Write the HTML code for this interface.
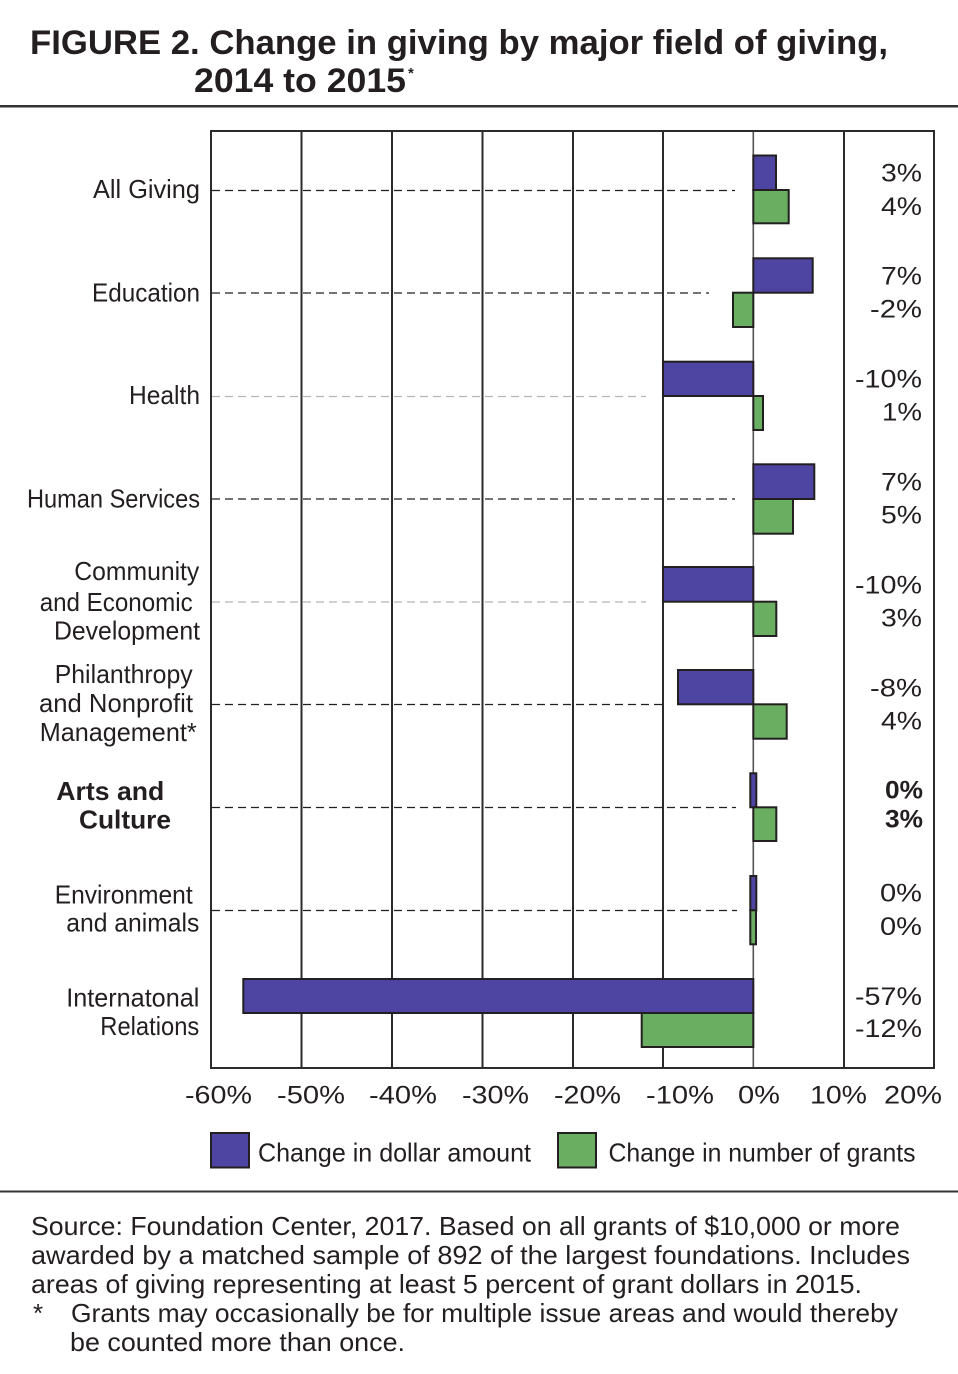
<!DOCTYPE html>
<html><head><meta charset="utf-8"><style>
html,body{margin:0;padding:0;background:#fff;}
svg{display:block;}
text{font-family:"Liberation Sans",sans-serif;fill:#231f20;}
</style></head><body>
<svg width="958" height="1374" viewBox="0 0 958 1374" xmlns="http://www.w3.org/2000/svg">
<rect width="958" height="1374" fill="#fff"/>
<!-- Title -->
<text x="30" y="54" font-size="34" font-weight="bold" textLength="858" lengthAdjust="spacingAndGlyphs">FIGURE 2. Change in giving by major field of giving,</text>
<text x="194" y="92" font-size="34" font-weight="bold" textLength="212" lengthAdjust="spacingAndGlyphs">2014 to 2015</text>
<text x="408" y="78" font-size="15" font-weight="bold">*</text>
<rect x="0" y="105" width="958" height="2.5" fill="#333"/>

<!-- Dashed leader lines -->
<g stroke-width="1.3" stroke-dasharray="8 5" fill="none">
<line x1="212" y1="190.5" x2="735" y2="190.5" stroke="#231f20"/>
<line x1="212" y1="293" x2="709" y2="293" stroke="#231f20"/>
<line x1="212" y1="396.5" x2="646" y2="396.5" stroke="#b5b5b5"/>
<line x1="212" y1="499" x2="735" y2="499" stroke="#231f20"/>
<line x1="212" y1="602" x2="646" y2="602" stroke="#b5b5b5"/>
<line x1="212" y1="704.5" x2="663" y2="704.5" stroke="#231f20"/>
<line x1="212" y1="807.5" x2="736" y2="807.5" stroke="#231f20"/>
<line x1="212" y1="910.5" x2="737" y2="910.5" stroke="#231f20"/>
</g>

<!-- Gridlines -->
<g stroke="#2b2b2b" stroke-width="2">
<line x1="301.5" y1="131" x2="301.5" y2="1068"/>
<line x1="392" y1="131" x2="392" y2="1068"/>
<line x1="482.5" y1="131" x2="482.5" y2="1068"/>
<line x1="573" y1="131" x2="573" y2="1068"/>
<line x1="663" y1="131" x2="663" y2="1068"/>
<line x1="844" y1="131" x2="844" y2="1068"/>
</g>
<line x1="753.3" y1="131" x2="753.3" y2="1068" stroke="#555" stroke-width="1.6"/>
<rect x="211" y="131" width="723" height="937" fill="none" stroke="#2b2b2b" stroke-width="2"/>

<!-- Bars -->
<g stroke="#231f20" stroke-width="2">
<rect x="753.3" y="155.5" width="22.7" height="34.5" fill="#4e45a2"/>
<rect x="753.3" y="190" width="35.4" height="33.3" fill="#6aae61"/>

<rect x="753.3" y="258.3" width="59.4" height="34.4" fill="#4e45a2"/>
<rect x="733" y="292.7" width="20.3" height="34.3" fill="#6aae61"/>

<rect x="663" y="361.7" width="90.3" height="34.3" fill="#4e45a2"/>
<rect x="753.3" y="396" width="9.7" height="34" fill="#6aae61"/>

<rect x="753.3" y="464.3" width="61" height="34.7" fill="#4e45a2"/>
<rect x="753.3" y="499" width="39.7" height="34.7" fill="#6aae61"/>

<rect x="663" y="567" width="90.3" height="34.7" fill="#4e45a2"/>
<rect x="753.3" y="601.7" width="23" height="34.3" fill="#6aae61"/>

<rect x="678" y="670" width="75.3" height="34.3" fill="#4e45a2"/>
<rect x="753.3" y="704.3" width="33.4" height="34.4" fill="#6aae61"/>

<rect x="750.3" y="773.3" width="6" height="34" fill="#4e45a2"/>
<rect x="753.3" y="807.3" width="23" height="33.7" fill="#6aae61"/>

<rect x="750.3" y="876" width="6" height="34.3" fill="#4e45a2"/>
<rect x="750.3" y="910.3" width="5.7" height="34" fill="#6aae61"/>

<rect x="243.3" y="979" width="510" height="34" fill="#4e45a2"/>
<rect x="641.7" y="1013" width="111.6" height="34" fill="#6aae61"/>
</g>

<!-- Category labels -->
<g font-size="26" text-anchor="end">
<text x="200" y="198" textLength="107" lengthAdjust="spacingAndGlyphs">All Giving</text>
<text x="200" y="301.7" textLength="108" lengthAdjust="spacingAndGlyphs">Education</text>
<text x="200" y="404" textLength="71" lengthAdjust="spacingAndGlyphs">Health</text>
<text x="200" y="507.7" textLength="173" lengthAdjust="spacingAndGlyphs">Human Services</text>
<text x="199.3" y="580" textLength="125" lengthAdjust="spacingAndGlyphs">Community</text>
<text x="192.7" y="611" textLength="153" lengthAdjust="spacingAndGlyphs">and Economic</text>
<text x="200" y="639.5" textLength="146" lengthAdjust="spacingAndGlyphs">Development</text>
<text x="192.7" y="683" textLength="138" lengthAdjust="spacingAndGlyphs">Philanthropy</text>
<text x="193" y="712" textLength="154" lengthAdjust="spacingAndGlyphs">and Nonprofit</text>
<text x="196.7" y="741" textLength="157" lengthAdjust="spacingAndGlyphs">Management*</text>
<text x="164.3" y="800" font-weight="bold" textLength="108" lengthAdjust="spacingAndGlyphs">Arts and</text>
<text x="171" y="828.5" font-weight="bold" textLength="92" lengthAdjust="spacingAndGlyphs">Culture</text>
<text x="192.7" y="903.3" textLength="138" lengthAdjust="spacingAndGlyphs">Environment</text>
<text x="199.3" y="931.7" textLength="133" lengthAdjust="spacingAndGlyphs">and animals</text>
<text x="199.3" y="1006.7" textLength="133" lengthAdjust="spacingAndGlyphs">Internatonal</text>
<text x="199.3" y="1035" textLength="99" lengthAdjust="spacingAndGlyphs">Relations</text>
</g>

<!-- Value labels -->
<g font-size="25" text-anchor="end">
<text x="922" y="181.7" textLength="41" lengthAdjust="spacingAndGlyphs">3%</text>
<text x="922" y="215" textLength="41" lengthAdjust="spacingAndGlyphs">4%</text>
<text x="922" y="284.3" textLength="41" lengthAdjust="spacingAndGlyphs">7%</text>
<text x="922" y="317.7" textLength="52" lengthAdjust="spacingAndGlyphs">-2%</text>
<text x="922" y="387.7" textLength="67" lengthAdjust="spacingAndGlyphs">-10%</text>
<text x="922" y="420.5" textLength="40" lengthAdjust="spacingAndGlyphs">1%</text>
<text x="922" y="490.5" textLength="41" lengthAdjust="spacingAndGlyphs">7%</text>
<text x="922" y="523.5" textLength="41" lengthAdjust="spacingAndGlyphs">5%</text>
<text x="922" y="593.5" textLength="67" lengthAdjust="spacingAndGlyphs">-10%</text>
<text x="922" y="626.5" textLength="41" lengthAdjust="spacingAndGlyphs">3%</text>
<text x="922" y="696.5" textLength="52" lengthAdjust="spacingAndGlyphs">-8%</text>
<text x="922" y="729.5" textLength="41" lengthAdjust="spacingAndGlyphs">4%</text>
<text x="923" y="798.5" font-weight="bold" textLength="38" lengthAdjust="spacingAndGlyphs">0%</text>
<text x="923" y="827.5" font-weight="bold" textLength="38" lengthAdjust="spacingAndGlyphs">3%</text>
<text x="922" y="901.7" textLength="42" lengthAdjust="spacingAndGlyphs">0%</text>
<text x="922" y="935" textLength="42" lengthAdjust="spacingAndGlyphs">0%</text>
<text x="922" y="1005" textLength="67" lengthAdjust="spacingAndGlyphs">-57%</text>
<text x="922" y="1037" textLength="67" lengthAdjust="spacingAndGlyphs">-12%</text>
</g>

<!-- Axis tick labels -->
<g font-size="25">
<text x="185" y="1103.3" textLength="67" lengthAdjust="spacingAndGlyphs">-60%</text>
<text x="277" y="1103.3" textLength="68" lengthAdjust="spacingAndGlyphs">-50%</text>
<text x="369" y="1103.3" textLength="68" lengthAdjust="spacingAndGlyphs">-40%</text>
<text x="462" y="1103.3" textLength="67" lengthAdjust="spacingAndGlyphs">-30%</text>
<text x="554" y="1103.3" textLength="67" lengthAdjust="spacingAndGlyphs">-20%</text>
<text x="646" y="1103.3" textLength="68" lengthAdjust="spacingAndGlyphs">-10%</text>
<text x="738" y="1103.3" textLength="42" lengthAdjust="spacingAndGlyphs">0%</text>
<text x="810" y="1103.3" textLength="57" lengthAdjust="spacingAndGlyphs">10%</text>
<text x="884" y="1103.3" textLength="58" lengthAdjust="spacingAndGlyphs">20%</text>
</g>

<!-- Legend -->
<rect x="211" y="1133" width="38" height="34.5" fill="#4e45a2" stroke="#231f20" stroke-width="2"/>
<text x="258" y="1161.7" font-size="26" textLength="273" lengthAdjust="spacingAndGlyphs">Change in dollar amount</text>
<rect x="558" y="1133" width="38" height="34.5" fill="#6aae61" stroke="#231f20" stroke-width="2"/>
<text x="608.5" y="1161.7" font-size="26" textLength="307" lengthAdjust="spacingAndGlyphs">Change in number of grants</text>

<rect x="0" y="1190.5" width="958" height="2" fill="#333"/>

<!-- Footer -->
<g font-size="26">
<text x="31" y="1235" textLength="869" lengthAdjust="spacingAndGlyphs">Source: Foundation Center, 2017. Based on all grants of $10,000 or more</text>
<text x="31" y="1264" textLength="879" lengthAdjust="spacingAndGlyphs">awarded by a matched sample of 892 of the largest foundations.  Includes</text>
<text x="31" y="1293" textLength="831" lengthAdjust="spacingAndGlyphs">areas of giving representing at least 5 percent of grant dollars in 2015.</text>
<text x="33" y="1322">*</text>
<text x="71" y="1322" textLength="827" lengthAdjust="spacingAndGlyphs">Grants may occasionally be for multiple issue areas and would thereby</text>
<text x="70" y="1351" textLength="335" lengthAdjust="spacingAndGlyphs">be counted more than once.</text>
</g>
</svg>
</body></html>
